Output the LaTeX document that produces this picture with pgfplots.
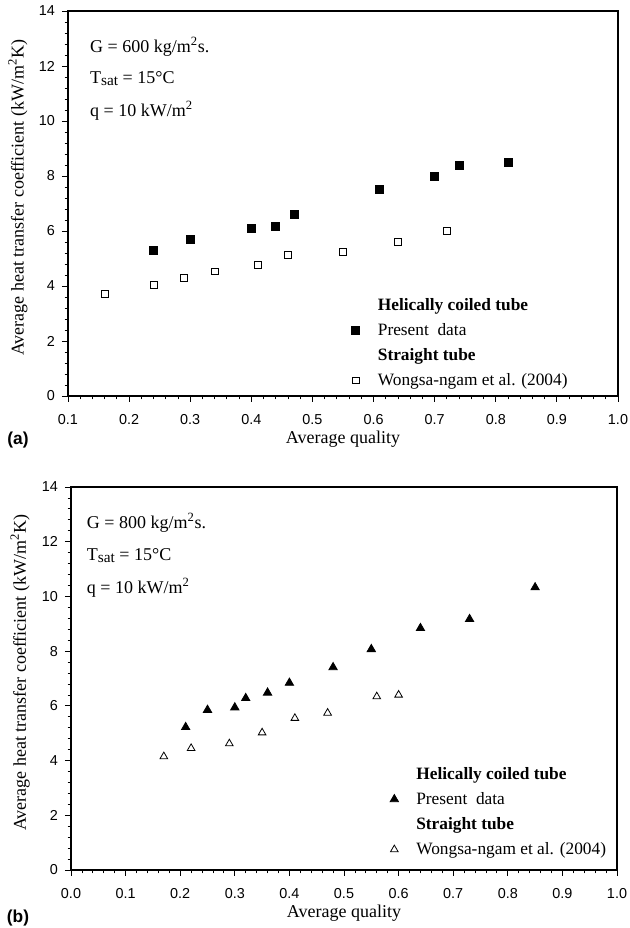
\documentclass[border=0pt]{standalone}
\usepackage{fontspec}
\setmainfont{Liberation Serif}
\newfontfamily\arialf{Liberation Sans}
\usepackage{pgfplots}
\pgfplotsset{compat=1.18}

\newcommand{\Tsat}{T\raisebox{-0.35ex}{\fontsize{11.5}{12}\selectfont sat}}

\pgfplotsset{
  hxfig/.style={
    scale only axis, clip=false,
    xmax=1.0, ymin=0, ymax=14,
    ytick={0,2,4,6,8,10,12,14},
    minor x tick num=4, minor y tick num=4,
    tick align=outside, xtick pos=left, ytick pos=left,
    major tick length=4.5pt, minor tick length=2.5pt,
    line width=0.9pt,
    tick style={black, line width=0.6pt},
    /pgf/number format/assume math mode=true,
    tick label style={font=\arialf\fontsize{10.8}{12}\selectfont},
    xticklabel style={/pgf/number format/.cd, fixed, fixed zerofill, precision=1},
    xticklabel shift=5.3pt, yticklabel shift=1.5pt,
    label style={font=\fontsize{13.5}{15}\selectfont},
    xlabel={Average quality},
    ylabel={Average heat transfer coefficient (kW/m\textsuperscript{2}K)},
    legend cell align=left,
    legend style={draw=none, fill=none, anchor=north west,
      font=\fontsize{13}{15}\selectfont, row sep=5.3pt,
      nodes={inner sep=1.5pt}},
    legend image code/.code={
      \path[draw=none] (-8.5pt,0) (15pt,0);
      \draw[##1] plot coordinates {(0pt,0pt)};
    },
  },
  filled/.style={only marks, mark options={line width=0.6pt, black, fill=black}},
  hollow/.style={only marks, mark options={line width=0.6pt, black, fill=white}},
}

\begin{document}
\begin{tikzpicture}
\useasboundingbox (0,0) rectangle (471.75pt,696pt);

% (a) G = 600
\begin{axis}[hxfig,
  at={(51pt,399pt)}, anchor=south west,
  width=412.5pt, height=288.75pt,
  xmin=0.1, xtick={0.1,0.2,0.3,0.4,0.5,0.6,0.7,0.8,0.9,1.0},
  xlabel style={at={(axis description cs:0.5,-0.112)}, anchor=center},
  ylabel style={at={(axis description cs:-0.091,0.515)}, anchor=center},
  legend style={at={(axis cs:0.545,3.75)}},
]
\addlegendimage{empty legend}
\addlegendentry{\textbf{Helically coiled tube}}
\addplot[filled, mark=square*, mark size=3pt] coordinates {
  (0.24,5.29) (0.30,5.69) (0.40,6.08) (0.44,6.16) (0.47,6.61)
  (0.61,7.53) (0.70,7.98) (0.74,8.37) (0.82,8.49)};
\addlegendentry{Present\ \ data}
\addlegendimage{empty legend}
\addlegendentry{\textbf{Straight tube}}
\addplot[hollow, mark=square, mark size=2.6pt] coordinates {
  (0.16,3.70) (0.24,4.04) (0.29,4.29) (0.34,4.53) (0.41,4.78)
  (0.46,5.13) (0.55,5.23) (0.64,5.59) (0.72,6.00)};
\addlegendentry{Wongsa-ngam et al. (2004)}
\node[anchor=base west, font=\fontsize{13.5}{15}\selectfont] at (axis cs:0.128,12.5) {G = 600 kg/m\textsuperscript{2}s.};
\node[anchor=base west, font=\fontsize{13.5}{15}\selectfont] at (axis cs:0.128,11.38) {\Tsat{} = 15°C};
\node[anchor=base west, font=\fontsize{13.5}{15}\selectfont] at (axis cs:0.128,10.15) {q = 10 kW/m\textsuperscript{2}};
\node[font=\arialf\bfseries\fontsize{13}{15}\selectfont] at (axis description cs:-0.091,-0.114) {(a)};
\end{axis}

% (b) G = 800
\begin{axis}[hxfig,
  at={(53.25pt,43.5pt)}, anchor=south west,
  width=409.5pt, height=287.25pt,
  xmin=0.0, xtick={0,0.1,0.2,0.3,0.4,0.5,0.6,0.7,0.8,0.9,1.0},
  xlabel style={at={(axis description cs:0.5,-0.112)}, anchor=center},
  ylabel style={at={(axis description cs:-0.093,0.515)}, anchor=center},
  legend style={at={(axis cs:0.563,3.95)}},
]
\addlegendimage{empty legend}
\addlegendentry{\textbf{Helically coiled tube}}
\addplot[filled, mark=triangle*, mark size=3.6pt] coordinates {
  (0.21,5.22) (0.25,5.85) (0.30,5.94) (0.32,6.28) (0.36,6.48) (0.40,6.84)
  (0.48,7.41) (0.55,8.07) (0.64,8.84) (0.73,9.17) (0.85,10.33)};
\addlegendentry{Present\ \ data}
\addlegendimage{empty legend}
\addlegendentry{\textbf{Straight tube}}
\addplot[hollow, mark=triangle, mark size=3.3pt] coordinates {
  (0.17,4.15) (0.22,4.45) (0.29,4.62) (0.35,5.02) (0.41,5.55)
  (0.47,5.74) (0.56,6.34) (0.60,6.40)};
\addlegendentry{Wongsa-ngam et al. (2004)}
\node[anchor=base west, font=\fontsize{13.5}{15}\selectfont] at (axis cs:0.02,12.5) {G = 800 kg/m\textsuperscript{2}s.};
\node[anchor=base west, font=\fontsize{13.5}{15}\selectfont] at (axis cs:0.02,11.33) {\Tsat{} = 15°C};
\node[anchor=base west, font=\fontsize{13.5}{15}\selectfont] at (axis cs:0.02,10.09) {q = 10 kW/m\textsuperscript{2}};
\node[font=\arialf\bfseries\fontsize{13}{15}\selectfont] at (axis description cs:-0.097,-0.125) {(b)};
\end{axis}
\end{tikzpicture}
\end{document}
